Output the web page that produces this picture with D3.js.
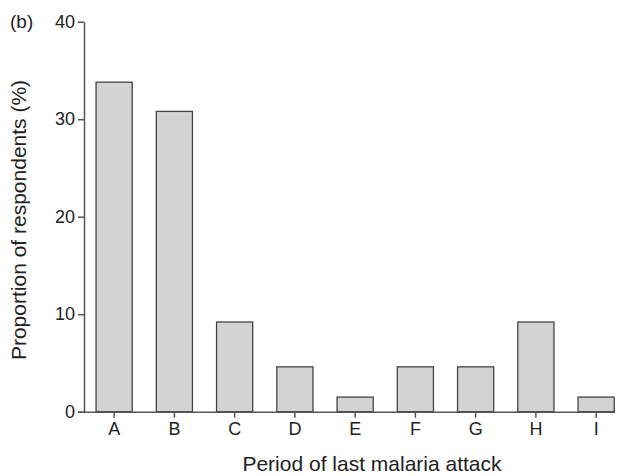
<!DOCTYPE html>
<html>
<head>
<meta charset="utf-8">
<script src="https://cdn.jsdelivr.net/npm/d3@7"></script>
<style>
  body { margin: 0; background: #fff; }
  svg text { font-family: "Liberation Sans", Arial, sans-serif; fill: #222; }
</style>
</head>
<body>
<svg id="chart" width="624" height="476"></svg>
<script>
const categories = ["A", "B", "C", "D", "E", "F", "G", "H", "I"];
const values = [33.8, 30.8, 9.2, 4.6, 1.5, 4.6, 4.6, 9.2, 1.5];
const yTicks = [0, 10, 20, 30, 40];

const svg = d3.select("#chart");
const margin = { top: 21.7, left: 84, bottom: 64.3 };
const H = 476;

const x = d3.scaleBand().domain(categories).range([84, 626.25]).paddingInner(0.4).paddingOuter(0.2);
const y = d3.scaleLinear().domain([0, 40]).range([H - margin.bottom, margin.top]);

const axisColor = "#555";

// bars
svg.append("g").selectAll("rect").data(values).join("rect")
  .attr("x", (d, i) => x(categories[i]))
  .attr("y", d => y(d))
  .attr("width", x.bandwidth())
  .attr("height", d => y(0) - y(d))
  .attr("fill", "#d3d3d3")
  .attr("stroke", "#444")
  .attr("stroke-width", 1.3);

// y axis
const gy = svg.append("g").attr("transform", `translate(${margin.left},0)`)
  .call(d3.axisLeft(y).tickValues(yTicks).tickSize(6).tickPadding(3).tickSizeOuter(0));
gy.select(".domain").attr("stroke", axisColor).attr("stroke-width", 1.5);
gy.selectAll(".tick line").attr("stroke", axisColor).attr("stroke-width", 1.5);
gy.selectAll(".tick text").style("font-size", "18px").attr("fill", "#222");

// x axis
const gx = svg.append("g").attr("transform", `translate(0,${y(0)})`)
  .call(d3.axisBottom(x).tickSize(6).tickPadding(5).tickSizeOuter(0));
gx.select(".domain").attr("d", `M78,0.5H615`).attr("stroke", axisColor).attr("stroke-width", 1.5);
gx.selectAll(".tick line").attr("stroke", axisColor).attr("stroke-width", 1.5);
gx.selectAll(".tick text").style("font-size", "18px").attr("fill", "#222");

// labels
svg.append("text").attr("x", 10).attr("y", 28).style("font-size", "19px").text("(b)");
svg.append("text")
  .attr("transform", `translate(26,220) rotate(-90)`)
  .attr("text-anchor", "middle").style("font-size", "21px")
  .text("Proportion of respondents (%)");
svg.append("text").attr("x", 372).attr("y", 471)
  .attr("text-anchor", "middle").style("font-size", "21px")
  .text("Period of last malaria attack");
</script>
</body>
</html>
